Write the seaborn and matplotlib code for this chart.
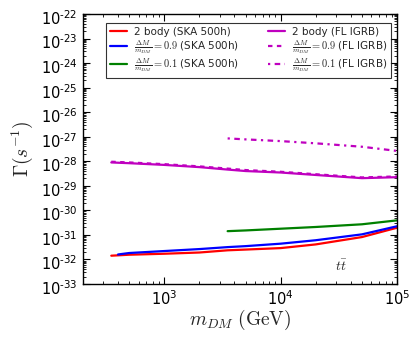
import numpy as np
import pandas as pd
import matplotlib
matplotlib.use("Agg")
import matplotlib.pyplot as plt
import matplotlib.ticker as mticker
import matplotlib.transforms as mtransforms
import seaborn as sns

# dark matter mass (GeV) and log10 of the decay rate Gamma (s^-1)
m_ska_2b = [350, 500, 1000, 2000, 3500, 5000, 10000, 20000, 50000, 100000]
g_ska_2b = [-31.85, -31.81, -31.77, -31.72, -31.63, -31.60, -31.54, -31.39, -31.09, -30.71]

m_ska_09 = [400, 500, 1000, 2000, 3500, 5000, 10000, 20000, 50000, 100000]
g_ska_09 = [-31.80, -31.74, -31.66, -31.58, -31.50, -31.46, -31.36, -31.22, -30.98, -30.65]

m_ska_01 = [3500, 5000, 10000, 20000, 50000, 100000]
g_ska_01 = [-30.85, -30.82, -30.75, -30.68, -30.57, -30.41]

m_fl_2b = [350, 500, 1000, 2000, 3500, 5000, 10000, 20000, 50000, 100000]
g_fl_2b = [-28.05, -28.08, -28.15, -28.24, -28.34, -28.40, -28.46, -28.56, -28.69, -28.65]

m_fl_09 = [350, 500, 1000, 2000, 3500, 5000, 10000, 20000, 50000, 100000]
g_fl_09 = [-28.02, -28.05, -28.12, -28.21, -28.30, -28.36, -28.43, -28.53, -28.66, -28.62]

m_fl_01 = [3500, 5000, 10000, 20000, 50000, 100000]
g_fl_01 = [-27.07, -27.11, -27.18, -27.27, -27.41, -27.58]

series = [
    ("2 body (SKA 500h)", m_ska_2b, g_ska_2b, "r", "-"),
    (r"$\frac{\Delta M}{m_{DM}}=0.9$ (SKA 500h)", m_ska_09, g_ska_09, "b", "-"),
    (r"$\frac{\Delta M}{m_{DM}}=0.1$ (SKA 500h)", m_ska_01, g_ska_01, "g", "-"),
    ("2 body (FL IGRB)", m_fl_2b, g_fl_2b, "m", "-"),
    (r"$\frac{\Delta M}{m_{DM}}=0.9$ (FL IGRB)", m_fl_09, g_fl_09, "m", (0, (2, 2))),
    (r"$\frac{\Delta M}{m_{DM}}=0.1$ (FL IGRB)", m_fl_01, g_fl_01, "m", (0, (1, 2, 2.5, 2))),
]

sns.set_style("ticks")
plt.rcParams["font.family"] = ["DejaVu Sans"]
plt.rcParams["mathtext.fontset"] = "cm"
plt.rcParams["xtick.direction"] = "in"
plt.rcParams["ytick.direction"] = "in"

fig = plt.figure(figsize=(4.14, 3.38), dpi=100)
ax = fig.add_axes([0.2005, 0.160, 0.7585, 0.7986])

for label, m, g, c, ls in series:
    df = pd.DataFrame({"m": m, "gamma": 10.0 ** np.array(g)})
    sns.lineplot(data=df, x="m", y="gamma", ax=ax, color=c, linestyle=ls,
                 linewidth=1.6, label=label, sort=True)

ax.set_xscale("log")
ax.set_yscale("log")
ax.set_xlim(200, 1e5)
ax.set_ylim(1e-33, 1e-22)

ax.yaxis.set_major_locator(mticker.LogLocator(base=10, numticks=30))
ax.yaxis.set_minor_locator(mticker.LogLocator(base=10, subs=np.arange(2, 10), numticks=300))
ax.xaxis.set_major_locator(mticker.LogLocator(base=10, numticks=30))
ax.xaxis.set_minor_locator(mticker.LogLocator(base=10, subs=np.arange(2, 10), numticks=300))


def pow_label(v, pos):
    e = int(round(np.log10(v)))
    s = str(e).replace("-", "\u2010")
    return r"$\mathregular{10^{%s}}$" % s


fmt = mticker.FuncFormatter(pow_label)
ax.yaxis.set_major_formatter(fmt)
ax.xaxis.set_major_formatter(fmt)
ax.xaxis.set_minor_formatter(mticker.NullFormatter())
ax.yaxis.set_minor_formatter(mticker.NullFormatter())
ax.tick_params(which="both", top=True, right=True, labelsize=10.5, colors="black")
ax.tick_params(which="major", length=5, width=0.8)
ax.tick_params(which="minor", length=2.5, width=0.6)
ax.tick_params(axis="x", which="major", pad=4)
ax.tick_params(axis="y", which="major", pad=4)
for s in ax.spines.values():
    s.set_color("black")
    s.set_linewidth(1.0)

ax.set_xlabel(r"$m_{DM}\ (\mathrm{GeV})$", fontsize=14, labelpad=0)
ax.set_ylabel(r"$\Gamma(s^{-1})$", fontsize=14, labelpad=4)

ax.text(3.3e4, 10 ** -32.3, r"$t\bar{t}$", fontsize=10, ha="center", va="center")

leg = ax.legend(loc="upper left", bbox_to_anchor=(0.058, 0.985), ncol=2, fontsize=7.5,
                frameon=True, fancybox=False, edgecolor="black", handlelength=1.6,
                handletextpad=0.7, columnspacing=2.8, labelspacing=0.1, borderpad=0.35)
leg.get_frame().set_linewidth(0.8)

# nudge y tick labels down a little so the top one stays inside the figure
fig.canvas.draw()
shift = mtransforms.ScaledTranslation(0, -2.2 / 72, fig.dpi_scale_trans)
for lab in ax.get_yticklabels():
    lab.set_transform(lab.get_transform() + shift)

fig.savefig("out.png", dpi=100)
